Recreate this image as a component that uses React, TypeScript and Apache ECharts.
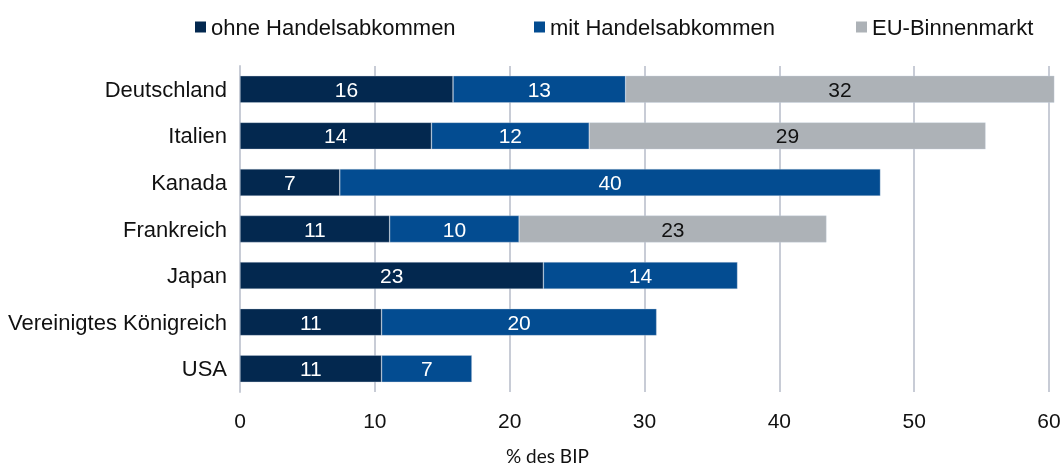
import React, { useEffect, useRef } from "react";
import * as echarts from "echarts";

const categories = ["Deutschland", "Italien", "Kanada", "Frankreich", "Japan", "Vereinigtes Königreich", "USA"];
const seriesNames = ["ohne Handelsabkommen", "mit Handelsabkommen", "EU-Binnenmarkt"];
const ohneValues = [15.8, 14.2, 7.4, 11.1, 22.5, 10.5, 10.5];
const mitValues = [12.8, 11.7, 40.1, 9.6, 14.4, 20.4, 6.7];
const euValues: (number | null)[] = [31.8, 29.4, null, 22.8, null, null, null];
const xTicks = { min: 0, max: 60, interval: 10 };
const axisTitle = "% des BIP";

const colors = ["#03284f", "#034c91", "#adb2b7"];
const labelColors = ["#ffffff", "#ffffff", "#111111"];
const FONT = "'Liberation Sans', Arial, sans-serif";

export default function App() {
  const ref = useRef<HTMLDivElement>(null);
  useEffect(() => {
    if (!ref.current) return;
    const chart = echarts.init(ref.current, null, { renderer: "svg" });
    const dataSets = [ohneValues, mitValues, euValues];
    const legendLefts = [190, 529, 851];
    chart.setOption({
      animation: false,
      textStyle: { fontFamily: FONT },
      legend: seriesNames.map((n, i) => ({
        data: [n],
        left: legendLefts[i],
        top: 11,
        icon: "rect",
        itemWidth: 11,
        itemHeight: 11,
        itemStyle: { borderWidth: 0 },
        textStyle: { fontFamily: FONT, fontSize: 22, color: "#111" },
        selectedMode: false,
      })),
      grid: { left: 240, right: 15, top: 66, bottom: 76 },
      xAxis: {
        type: "value",
        min: xTicks.min,
        max: xTicks.max,
        interval: xTicks.interval,
        axisLine: { show: false },
        axisTick: { show: false },
        splitLine: { show: true, lineStyle: { color: "#c8ccd6", width: 2 } },
        axisLabel: { fontFamily: FONT, fontSize: 21, color: "#111", margin: 18 },
      },
      yAxis: {
        type: "category",
        data: categories,
        inverse: true,
        axisLine: { show: true, lineStyle: { color: "#c8ccd6", width: 2 } },
        axisTick: { show: false },
        axisLabel: { fontFamily: FONT, fontSize: 22, color: "#111", margin: 13 },
      },
      graphic: [
        {
          type: "text",
          left: 506,
          top: 446,
          style: { text: axisTitle, fontFamily: "Lato, 'Open Sans', sans-serif", fontSize: 19, fill: "#111" },
        },
      ],
      series: dataSets.map((d, i) => ({
        name: seriesNames[i],
        type: "bar",
        stack: "total",
        data: d,
        barWidth: 27,
        clip: false,
        itemStyle: { color: colors[i], borderColor: "rgba(200,210,225,0.6)", borderWidth: 0.6 },
        label: {
          show: true,
          position: "inside",
          fontFamily: FONT,
          fontSize: 21,
          color: labelColors[i],
          formatter: (p: any) => (p.value == null ? "" : String(Math.round(p.value))),
        },
      })),
    });
    return () => chart.dispose();
  }, []);
  return <div ref={ref} style={{ position: "fixed", left: 0, top: 0, width: 1064, height: 468 }} />;
}
